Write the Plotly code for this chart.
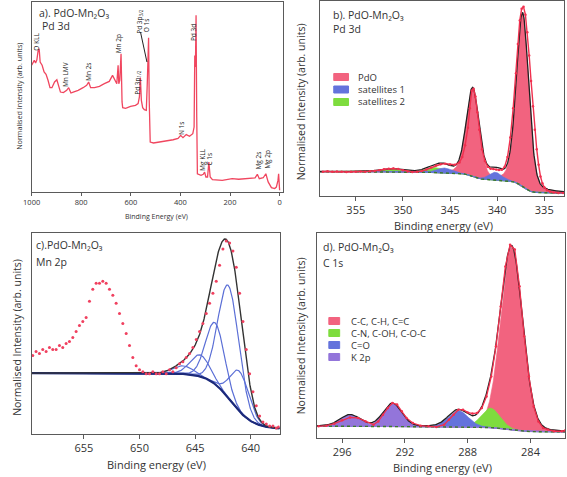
import numpy as np
import plotly.graph_objects as go

W, H = 567, 477
FONT = "Open Sans"

# ---------------- (a) survey spectrum ----------------
survey_energy = [1000, 994.7, 989.4, 984.1, 978.9, 973.6, 969.6, 965.7, 957.7, 949.8, 941.9, 933.9,
                 926.0, 918.1, 907.5, 898.3, 891.7, 883.8, 871.9, 858.7, 850.7, 841.5, 832.2, 812.4,
                 792.6, 778.1, 770.1, 762.2, 746.4, 726.6, 706.7, 686.9, 673.7, 667.1, 656.6, 651.3,
                 648.6, 644.6, 639.4, 635.4, 632.8, 620.9, 601.1, 581.2, 570.7, 565.4, 561.4, 557.5,
                 552.2, 545.6, 537.6, 533.7, 531.0, 528.4, 525.8, 521.8, 508.6, 482.2, 455.7, 429.3,
                 409.5, 399.0, 389.7, 376.5, 363.3, 350.1, 344.8, 342.1, 339.5, 336.9, 334.2, 331.6,
                 317.0, 307.8, 302.5, 297.2, 290.6, 285.3, 280.0, 270.8, 231.2, 191.5, 165.1, 125.5,
                 99.1, 89.8, 81.9, 66.0, 55.5, 46.2, 33.0, 19.8, 13.2, 6.6, 4.0, 0.0]
survey_intensity = [0.667, 0.684, 0.693, 0.679, 0.696, 0.746, 0.754, 0.684, 0.667, 0.632, 0.619, 0.588,
                    0.549, 0.549, 0.579, 0.591, 0.561, 0.526, 0.523, 0.535, 0.549, 0.521, 0.526, 0.535,
                    0.549, 0.561, 0.579, 0.549, 0.549, 0.556, 0.570, 0.582, 0.614, 0.596, 0.570, 0.667,
                    0.570, 0.588, 0.728, 0.474, 0.444, 0.440, 0.451, 0.456, 0.465, 0.500, 0.602, 0.482,
                    0.444, 0.433, 0.430, 0.570, 0.684, 0.812, 0.482, 0.263, 0.258, 0.263, 0.268, 0.275,
                    0.282, 0.298, 0.286, 0.302, 0.293, 0.307, 0.342, 0.719, 0.658, 0.930, 0.395, 0.096,
                    0.088, 0.093, 0.105, 0.079, 0.079, 0.158, 0.079, 0.065, 0.061, 0.070, 0.067, 0.070,
                    0.074, 0.093, 0.070, 0.075, 0.096, 0.053, 0.023, 0.018, 0.026, 0.061, 0.096, 0.009]
survey_ticks = [1000, 800, 600, 400, 200, 0]
survey_peak_labels = ["O KLL", "Mn LMV", "Mn 2s", "Mn 2p", "Pd 3p<sub>1/2</sub>", "Pd 3p<sub>3/2</sub>",
                      "O 1s", "Pd 3d", "N 1s", "Mg KLL", "C 1s", "Mg 2s", "Mg 2p"]
survey_label_energy = [984, 862.6, 768.8, 650, 572, 564, 537, 347.4, 396.3, 310.4, 281.4, 85.9, 46.2]
survey_label_intensity = [0.789, 0.619, 0.632, 0.78, 0.579, 0.90, 0.88, 0.839, 0.333, 0.167, 0.175, 0.167, 0.17]

# ---------------- (b) Pd 3d ----------------
pd3d_energy = [358.5, 358, 357.5, 357, 356.5, 356, 355.5, 355, 354.5, 354, 353.5, 353, 352.5, 352, 351.5,
               351, 350.5, 350, 349.5, 349, 348.5, 348, 347.5, 347, 346.5, 346, 345.5, 345, 344.5, 344,
               343.7, 343.4, 343.1, 342.9, 342.7, 342.5, 342.3, 342.1, 341.9, 341.6, 341.3, 341.0, 340.7,
               340.4, 340.1, 339.8, 339.5, 339.2, 338.9, 338.6, 338.3, 338.0, 337.8, 337.6, 337.4, 337.2,
               337.0, 336.8, 336.6, 336.4, 336.2, 336.0, 335.8, 335.6, 335.4, 335.2, 335.0, 334.7, 334.4,
               334.0, 333.5, 333.0]
pd3d_intensity = [0.125, 0.127, 0.124, 0.126, 0.125, 0.123, 0.125, 0.124, 0.126, 0.125, 0.127, 0.128, 0.132,
                  0.137, 0.140, 0.141, 0.138, 0.132, 0.126, 0.123, 0.124, 0.128, 0.136, 0.146, 0.156, 0.163,
                  0.166, 0.162, 0.160, 0.172, 0.20, 0.26, 0.35, 0.45, 0.54, 0.55, 0.51, 0.43, 0.34, 0.24,
                  0.18, 0.15, 0.14, 0.138, 0.136, 0.133, 0.135, 0.15, 0.20, 0.30, 0.45, 0.63, 0.78, 0.90,
                  0.96, 0.97, 0.93, 0.84, 0.72, 0.59, 0.46, 0.34, 0.24, 0.16, 0.10, 0.065, 0.045, 0.030,
                  0.022, 0.018, 0.016, 0.016]
pdo_center, pdo_height, pdo_fwhm = [337.3, 342.6], [0.89, 0.45], [1.55, 1.6]
sat1_center, sat1_height, sat1_fwhm = [340.2, 345.6], [0.04, 0.025], [1.6, 1.8]
sat2_center, sat2_height, sat2_fwhm = [346.6, 351.3], [0.025, 0.016], [2.2, 2.5]
pd3d_bg_low, pd3d_bg_high = 0.015, 0.125
pd3d_ticks = [355, 350, 345, 340, 335]
pd3d_legend = ["PdO", "satellites 1", "satellites 2"]

# ---------------- (c) Mn 2p ----------------
mn2p_energy = [659.6, 659.3, 659.0, 658.7, 658.4, 658.1, 657.8, 657.5, 657.2, 656.9, 656.6, 656.3, 656.0,
               655.7, 655.4, 655.1, 654.8, 654.5, 654.2, 653.9, 653.6, 653.3, 653.0, 652.7, 652.4, 652.1,
               651.8, 651.5, 651.2, 650.9, 650.6, 650.3, 650.0, 649.7, 649.4, 649.1, 648.8, 648.5, 648.2,
               647.9, 647.6, 647.3, 647.0, 646.7, 646.4, 646.1, 645.8, 645.5, 645.2, 644.9, 644.6, 644.3,
               644.0, 643.7, 643.4, 643.1, 642.8, 642.5, 642.2, 641.9, 641.6, 641.3, 641.0, 640.7, 640.4,
               640.1, 639.8, 639.5, 639.2, 638.9, 638.6, 638.3, 638.0, 637.7, 637.5]
mn2p_intensity = [0.39, 0.41, 0.40, 0.42, 0.41, 0.43, 0.42, 0.42, 0.44, 0.43, 0.45, 0.46, 0.48, 0.51, 0.54,
                  0.56, 0.58, 0.66, 0.72, 0.75, 0.75, 0.76, 0.75, 0.72, 0.69, 0.65, 0.60, 0.55, 0.50, 0.44,
                  0.38, 0.34, 0.32, 0.31, 0.30, 0.30, 0.31, 0.30, 0.30, 0.31, 0.30, 0.32, 0.31, 0.33, 0.35,
                  0.36, 0.38, 0.40, 0.43, 0.47, 0.51, 0.55, 0.60, 0.65, 0.70, 0.76, 0.84, 0.92, 0.96, 0.95,
                  0.91, 0.83, 0.70, 0.56, 0.42, 0.30, 0.21, 0.14, 0.09, 0.06, 0.05, 0.04, 0.04, 0.03, 0.035]
mn_center = [646.1, 644.55, 643.2, 642.0, 641.0]
mn_height = [0.04, 0.107, 0.305, 0.56, 0.20]
mn_fwhm = [2.2, 2.1, 2.0, 2.2, 2.0]
mn_bg_low, mn_bg_high, mn_bg_mid, mn_bg_width = 0.025, 0.303, 641.8, 1.0
mn2p_ticks = [655, 650, 645, 640]

# ---------------- (d) C 1s ----------------
c1s_energy = [297.5, 297.0, 296.5, 296.0, 295.5, 295.0, 294.5, 294.0, 293.7, 293.4, 293.1, 292.8, 292.5,
              292.2, 291.9, 291.5, 291.0, 290.5, 290.0, 289.5, 289.2, 288.9, 288.6, 288.3, 288.0, 287.7,
              287.4, 287.1, 286.8, 286.5, 286.2, 285.9, 285.6, 285.3, 285.0, 284.7, 284.4, 284.1, 283.8,
              283.5, 283.2, 282.9, 282.5, 282.0, 281.8]
c1s_intensity = [0.057, 0.060, 0.070, 0.086, 0.100, 0.098, 0.081, 0.065, 0.081, 0.114, 0.146, 0.171, 0.163,
                 0.130, 0.098, 0.073, 0.060, 0.057, 0.054, 0.065, 0.089, 0.114, 0.138, 0.138, 0.125, 0.119,
                 0.122, 0.146, 0.203, 0.300, 0.447, 0.642, 0.837, 0.943, 0.919, 0.740, 0.496, 0.300, 0.154,
                 0.081, 0.049, 0.041, 0.033, 0.033, 0.036]
cc_center, cc_height, cc_fwhm = [285.2], [0.89], [1.65]
cn_center, cn_height, cn_fwhm = [286.55], [0.095], [1.4]
co_center, co_height, co_fwhm = [288.6], [0.08], [1.5]
k2p_center, k2p_height, k2p_fwhm = [292.8, 295.5], [0.113, 0.056], [1.4, 1.5]
c1s_bg_low, c1s_bg_high = 0.03, 0.058
c1s_ticks = [296, 292, 288, 284]
c1s_legend = ["C-C, C-H, C=C", "C-N, C-OH, C-O-C", "C=O", "K 2p"]

# ---------------- colours ----------------
PINK, BLUE, GREEN, PURPLE = "#F2637F", "#6473DC", "#7EDC3E", "#9375DA"
RED = "#F0304E"


def peak(E, c, h, w, eta=0.25):
    u = (E - c) / w
    return h * ((1 - eta) * np.exp(-4 * np.log(2) * u ** 2) + eta / (1 + 4 * u ** 2))


def comp_sum(E, centers, heights, fwhms, eta=0.1):
    return sum(peak(E, c, h, w, eta) for c, h, w in zip(centers, heights, fwhms))


def shirley(E, total, low, high):
    order = np.argsort(E)
    Es, S = E[order], total[order]
    cum = np.concatenate([[0.0], np.cumsum(0.5 * (S[1:] + S[:-1]) * np.diff(Es))])
    out = np.empty_like(E)
    out[order] = low + (high - low) * cum / cum[-1]
    return out


def px(x):
    return x / W


def py(y):
    return 1 - y / H


fig = go.Figure()


def band(E, top, bottom, color, xa, ya, name):
    fig.add_trace(go.Scatter(x=np.concatenate([E, E[::-1]]), y=np.concatenate([top, bottom[::-1]]),
                             fill="toself", fillcolor=color, mode="lines",
                             line=dict(color=color, width=0.6), xaxis=xa, yaxis=ya,
                             showlegend=False, name=name, hoverinfo="skip"))


# ---- (a)
fig.add_trace(go.Scatter(x=survey_energy, y=survey_intensity, mode="lines",
                         line=dict(color="#F0465F", width=1.3), xaxis="x", yaxis="y", showlegend=False))

# ---- (b)
Eb = np.linspace(358.8, 332.9, 700)
pdo_parts = [peak(Eb, c, h, w) for c, h, w in zip(pdo_center, pdo_height, pdo_fwhm)]
sat1_parts = [peak(Eb, c, h, w) for c, h, w in zip(sat1_center, sat1_height, sat1_fwhm)]
sat2_parts = [peak(Eb, c, h, w) for c, h, w in zip(sat2_center, sat2_height, sat2_fwhm)]
tot_b = sum(pdo_parts) + sum(sat1_parts) + sum(sat2_parts)
bg_b = shirley(Eb, tot_b, pd3d_bg_low, pd3d_bg_high)
for p in pdo_parts:
    band(Eb, bg_b + p, bg_b, PINK, "x2", "y2", "PdO")
for p in sat2_parts:
    band(Eb, bg_b + p, bg_b, GREEN, "x2", "y2", "satellites 2")
for p in sat1_parts:
    band(Eb, bg_b + p, bg_b, BLUE, "x2", "y2", "satellites 1")
fig.add_trace(go.Scatter(x=Eb, y=bg_b, mode="lines", line=dict(color="#3C7A2A", width=1.4, dash="dot"),
                         xaxis="x2", yaxis="y2", showlegend=False))
fig.add_trace(go.Scatter(x=Eb, y=bg_b + tot_b, mode="lines", line=dict(color="#222222", width=1.3),
                         xaxis="x2", yaxis="y2", showlegend=False))
fig.add_trace(go.Scatter(x=pd3d_energy, y=pd3d_intensity, mode="lines+markers",
                         line=dict(color=RED, width=1.4), marker=dict(color=RED, size=2.5),
                         xaxis="x2", yaxis="y2", showlegend=False))

# ---- (c)
Ec = np.linspace(659.7, 637.4, 700)
bg_c = mn_bg_low + (mn_bg_high - mn_bg_low) / (1 + np.exp(-(Ec - mn_bg_mid) / mn_bg_width))
mn_parts = [peak(Ec, c, h, w, 0.0) for c, h, w in zip(mn_center, mn_height, mn_fwhm)]
for p in mn_parts:
    fig.add_trace(go.Scatter(x=Ec, y=bg_c + p, mode="lines", line=dict(color="#5B6FD6", width=1.2),
                             xaxis="x3", yaxis="y3", showlegend=False))
fig.add_trace(go.Scatter(x=Ec, y=bg_c, mode="lines", line=dict(color="#1C2A7A", width=2.2),
                         xaxis="x3", yaxis="y3", showlegend=False))
fig.add_trace(go.Scatter(x=Ec, y=bg_c + sum(mn_parts), mode="lines", line=dict(color="#333333", width=1.4),
                         xaxis="x3", yaxis="y3", showlegend=False))
fig.add_trace(go.Scatter(x=mn2p_energy, y=mn2p_intensity, mode="markers",
                         marker=dict(color="#F0405F", size=3), xaxis="x3", yaxis="y3", showlegend=False))

# ---- (d)
Ed = np.linspace(297.6, 281.8, 700)
cc_p = comp_sum(Ed, cc_center, cc_height, cc_fwhm)
cn_p = comp_sum(Ed, cn_center, cn_height, cn_fwhm)
co_p = comp_sum(Ed, co_center, co_height, co_fwhm)
k_parts = [peak(Ed, c, h, w, 0.1) for c, h, w in zip(k2p_center, k2p_height, k2p_fwhm)]
tot_d = cc_p + cn_p + co_p + sum(k_parts)
bg_d = shirley(Ed, tot_d, c1s_bg_low, c1s_bg_high)
band(Ed, bg_d + cc_p, bg_d, PINK, "x4", "y4", "C-C")
band(Ed, bg_d + cn_p, bg_d, GREEN, "x4", "y4", "C-N")
band(Ed, bg_d + co_p, bg_d, BLUE, "x4", "y4", "C=O")
for p in k_parts:
    band(Ed, bg_d + p, bg_d, PURPLE, "x4", "y4", "K 2p")
fig.add_trace(go.Scatter(x=Ed, y=bg_d, mode="lines", line=dict(color="#3C7A2A", width=1.4, dash="dot"),
                         xaxis="x4", yaxis="y4", showlegend=False))
fig.add_trace(go.Scatter(x=Ed, y=bg_d + tot_d, mode="lines", line=dict(color="#222222", width=1.3),
                         xaxis="x4", yaxis="y4", showlegend=False))
fig.add_trace(go.Scatter(x=c1s_energy, y=c1s_intensity, mode="lines+markers",
                         line=dict(color=RED, width=1.3), marker=dict(color=RED, size=2.5),
                         xaxis="x4", yaxis="y4", showlegend=False))

# ---------------- axes ----------------
FRAME = "#5A5A5A"


def xaxis(xd, rng, ticks, fs, tl, anchor):
    return dict(domain=[px(xd[0]), px(xd[1])], range=rng, tickvals=ticks, ticks="outside", ticklen=tl,
                tickcolor=FRAME, showline=True, linecolor=FRAME, linewidth=1, mirror=True,
                showgrid=False, zeroline=False, anchor=anchor,
                tickfont=dict(family=FONT, size=fs, color="#333"))


def yaxis(yd, anchor):
    return dict(domain=[py(yd[1]), py(yd[0])], range=[0, 1], showticklabels=False, ticks="",
                showline=True, linecolor=FRAME, linewidth=1, mirror=True, showgrid=False,
                zeroline=False, anchor=anchor)


fig.update_layout(
    width=W, height=H, margin=dict(l=0, r=0, t=0, b=0), paper_bgcolor="white", plot_bgcolor="white",
    xaxis=xaxis((23, 278), [1000, -12], survey_ticks, 7.5, 3, "y"),
    yaxis=yaxis((2, 192), "x"),
    xaxis2=xaxis((316, 564), [358.8, 332.9], pd3d_ticks, 11, 4, "y2"),
    yaxis2=yaxis((1, 196), "x2"),
    xaxis3=xaxis((23, 275), [659.7, 637.4], mn2p_ticks, 11, 4, "y3"),
    yaxis3=yaxis((233, 434), "x3"),
    xaxis4=xaxis((313, 565), [297.6, 281.8], c1s_ticks, 11, 4, "y4"),
    yaxis4=yaxis((233, 438), "x4"),
    font=dict(family=FONT, color="#333"),
)

ann = []


def text(x, y, s, size, xanchor="left", angle=0, color="#333"):
    ann.append(dict(x=px(x), y=py(y), xref="paper", yref="paper", text=s, showarrow=False,
                    xanchor=xanchor, yanchor="middle", textangle=angle,
                    font=dict(family=FONT, size=size, color=color)))


# panel titles
text(28, 13, "a). PdO-Mn₂O₃", 10.5)
text(31, 26, "Pd 3d", 10.5)
text(327, 15, "b). PdO-Mn₂O₃", 10.5)
text(327, 29, "Pd 3d", 10.5)
text(25, 245, "c).PdO-Mn₂O₃", 10.5)
text(25, 262, "Mn 2p", 10.5)
text(317, 247, "d). PdO-Mn₂O₃", 10.5)
text(317, 263, "C 1s", 10.5)

# axis titles
YT = "Normalised Intensity (arb. units)"
text(150, 216, "Binding Energy (eV)", 7, "center")
text(10, 96, YT, 7.2, "center", -90)
text(441, 225, "Binding energy (eV)", 11, "center")
text(297, 102, YT, 10.5, "center", -90)
text(150, 464, "Binding energy (eV)", 11, "center")
text(8, 337, YT, 10.5, "center", -90)
text(440, 467, "Binding energy (eV)", 11, "center")
text(297, 336, YT, 10.5, "center", -90)

# survey peak labels
for lab, e, i in zip(survey_peak_labels, survey_label_energy, survey_label_intensity):
    ann.append(dict(x=e, y=i, xref="x", yref="y", text=lab, showarrow=False, textangle=-90,
                    xanchor="center", yanchor="middle", font=dict(family=FONT, size=6.5, color="#222")))

shapes = [dict(type="line", xref="x", yref="y", x0=561, y0=0.842, x1=535, y1=0.684,
               line=dict(color="#222", width=1))]

# legends (b) and (d)
for k, (name, col) in enumerate(zip(pd3d_legend, [PINK, BLUE, GREEN])):
    yc = 77 + 12.5 * k
    shapes.append(dict(type="rect", xref="paper", yref="paper", x0=px(330), x1=px(345), y0=py(yc + 3.5),
                       y1=py(yc - 3.5), fillcolor=col, line=dict(color=col, width=1)))
    text(353, yc, name, 9.5)
for k, (name, col) in enumerate(zip(c1s_legend, [PINK, GREEN, BLUE, PURPLE])):
    yc = 321 + 12 * k
    shapes.append(dict(type="rect", xref="paper", yref="paper", x0=px(325), x1=px(336), y0=py(yc + 3.5),
                       y1=py(yc - 3.5), fillcolor=col, line=dict(color=col, width=1)))
    text(345, yc, name, 9.5)

fig.update_layout(annotations=ann, shapes=shapes)
fig.write_html("out.html", config={"displayModeBar": False},
               post_script="document.body.style.margin='0';document.body.style.overflow='hidden';")
